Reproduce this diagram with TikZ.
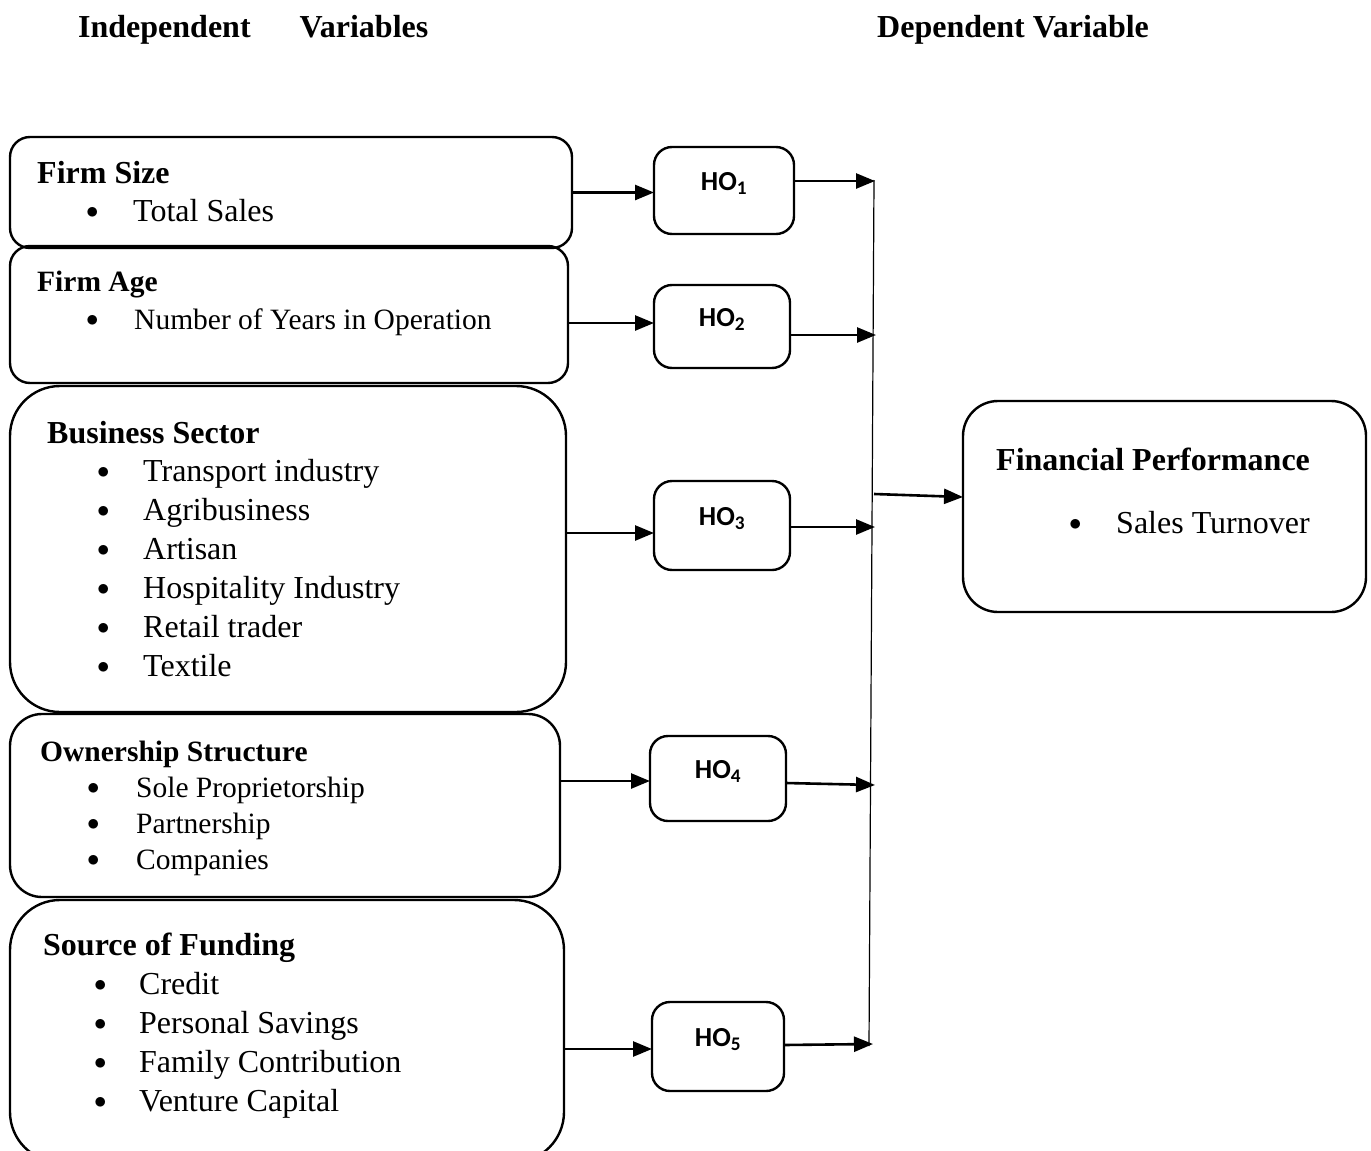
\documentclass[tikz,border=0pt]{standalone}
\usepackage{fontspec}
\setmainfont{Liberation Serif}
\newfontfamily\hofont{Carlito}
\usetikzlibrary{arrows.meta}

\newcommand{\bul}{\raisebox{3pt}{$\bullet$}}

\tikzset{
 ivbox/.style={draw,line width=2.4pt,anchor=north west,inner sep=0pt,outer sep=0pt},
 hobox/.style={draw,line width=2.4pt,rounded corners=18pt,anchor=north west,inner sep=0pt,outer sep=0pt,
   font=\hofont\fontsize{27.5}{30}\selectfont\bfseries,text height=16pt,text depth=16pt},
 txt/.style={anchor=base west,inner sep=0pt,font=\fontsize{32}{38}\selectfont},
 txtsm/.style={anchor=base west,inner sep=0pt,font=\fontsize{29.5}{34}\selectfont},
 head/.style={txt,font=\fontsize{32}{38}\selectfont\bfseries},
 headsm/.style={txt,font=\fontsize{29.5}{34}\selectfont\bfseries},
 arr/.style={line width=2.6pt,-{Triangle[length=19pt,width=15pt]}},
}

\begin{document}
\begin{tikzpicture}[x=1pt,y=-1pt]
\useasboundingbox (0,0) rectangle (1371,1151);
% titles
\node[head] (indep) at (78,37) {Independent\hspace{49pt}Variables};
\node[head] (dep) at (877,37) {Dependent Variable};

% independent variables
\node[ivbox,rounded corners=20pt,minimum width=562pt,minimum height=111pt] (fsize) at (10,137) {};
\node[ivbox,rounded corners=20pt,minimum width=558pt,minimum height=137pt] (fage) at (10,246) {};
\node[ivbox,rounded corners=50pt,minimum width=556pt,minimum height=326pt] (bsector) at (10,386) {};
\node[ivbox,rounded corners=32pt,minimum width=550pt,minimum height=183pt] (ostruct) at (10,714) {};
\node[ivbox,rounded corners=50pt,minimum width=554pt,minimum height=262pt] (sfund) at (10,900) {};

\node[head] (fsizehd) at (37,183) {Firm Size};
\node[txt] (fsizeit) at (86,221) {\makebox[47pt][l]{\bul}Total Sales};

\node[headsm] (fagehd) at (37,291) {Firm Age};
\node[txtsm] (fageit) at (86,329) {\makebox[48pt][l]{\bul}Number of Years in Operation};

\node[head] (bsectorhd) at (47,443) {Business Sector};
\foreach \t [count=\i] in {Transport industry,Agribusiness,Artisan,Hospitality Industry,Retail trader,Textile}
  \node[txt] (bsector\i) at (97,442+39*\i) {\makebox[46pt][l]{\bul}\t};

\node[headsm] (ostructhd) at (40,761) {Ownership Structure};
\foreach \t [count=\i] in {Sole Proprietorship,Partnership,Companies}
  \node[txtsm] (ostruct\i) at (87,761+36*\i) {\makebox[49pt][l]{\bul}\t};

\node[head] (sfundhd) at (43,955) {Source of Funding};
\foreach \t [count=\i] in {Credit,Personal Savings,Family Contribution,Venture Capital}
  \node[txt] (sfund\i) at (94,955+39*\i) {\makebox[45pt][l]{\bul}\t};

% hypotheses
\node[hobox,minimum width=140pt,minimum height=87pt] (ho1) at (654,147) {HO\textsubscript{1}};
\node[hobox,minimum width=136pt,minimum height=83pt] (ho2) at (654,285) {HO\textsubscript{2}};
\node[hobox,minimum width=136pt,minimum height=89pt] (ho3) at (654,481) {HO\textsubscript{3}};
\node[hobox,minimum width=136pt,minimum height=85pt] (ho4) at (650,736) {HO\textsubscript{4}};
\node[hobox,minimum width=132pt,minimum height=89pt] (ho5) at (652,1002) {HO\textsubscript{5}};

% dependent variable
\node[ivbox,rounded corners=35pt,minimum width=403pt,minimum height=211pt] (fperf) at (963,401) {};
\node[head] (fperfhd) at (996,470) {Financial Performance};
\node[txt] (fperfit) at (1069,533) {\makebox[47pt][l]{\bul}Sales Turnover};

% connectors
\draw[arr] (fsize.east) -- (fsize.east -| ho1.west);
\draw[arr] (fage.east |- 0,323) -- (ho2.west |- 0,323);
\draw[arr] (bsector.east |- 0,533) -- (ho3.west |- 0,533);
\draw[arr] (ostruct.east |- 0,781) -- (ho4.west |- 0,781);
\draw[arr] (sfund.east |- 0,1049) -- (ho5.west |- 0,1049);

\coordinate (vtop) at (874,180);
\coordinate (vbot) at (869,1046);
\draw[line width=1.2pt] (vtop) -- (vbot);
\coordinate (j1) at (875,181);
\coordinate (j2) at (876,335);
\coordinate (j3) at (875,527);
\coordinate (j4) at (875,785);
\coordinate (j5) at (873,1044);
\draw[arr] (ho1.east |- 0,181) -- (j1);
\draw[arr] (ho2.east |- 0,335) -- (j2);
\draw[arr] (ho3.east |- 0,527) -- (j3);
\draw[arr] (ho4.east |- 0,783) -- (j4);
\draw[arr] (ho5.east |- 0,1045) -- (j5);

\coordinate (jfp) at (874,494);
\draw[arr] (jfp) -- (fperf.west |- 0,497);
\end{tikzpicture}
\end{document}
